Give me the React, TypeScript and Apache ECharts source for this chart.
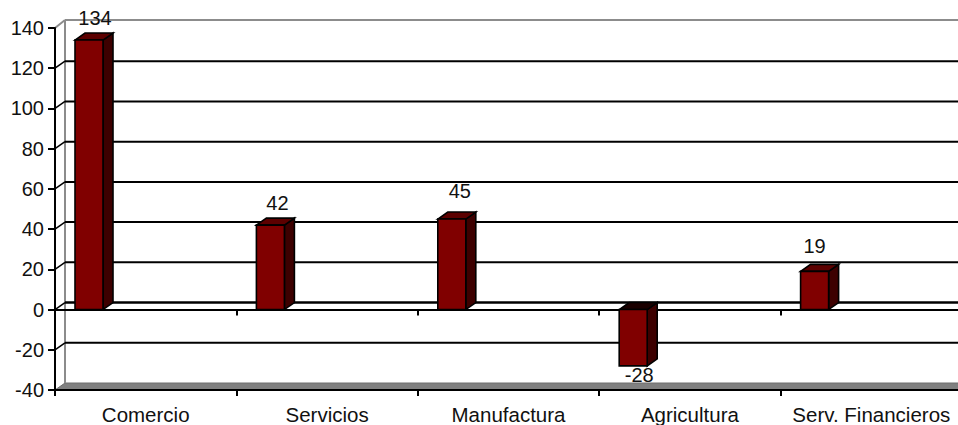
import React, { useEffect, useRef } from "react";
import * as echarts from "echarts";

const categories = ["Comercio", "Servicios", "Manufactura", "Agricultura", "Serv. Financieros"];
const values = [134, 42, 45, -28, 19];
const valueTicks = [-40, -20, 0, 20, 40, 60, 80, 100, 120, 140];

// Layout of the pseudo-3D drawing, in pixels.
const depthX = 10;
const depthY = 7;
const barInset = 20;
const barWidth = 28;
const labelShiftX = [6, 7, 8, 6, 0];
const labelGapY = [22, 22, 28, 9, 25];

const FONT = '"Liberation Sans", Arial, sans-serif';
const INK = "#000000";
const WALL = "#8c8c8c";

// Back wall: gridlines, diagonals joining them to the axis, and the floor.
function renderWall(params: any, api: any) {
  const v = api.value(1);
  const [, y] = api.coord([0, v]);
  const cs = params.coordSys;
  const left = cs.x;
  const right = cs.x + cs.width + 10;
  const isTop = v === valueTicks[valueTicks.length - 1];
  const isFloor = v === valueTicks[0];
  const backY = y - depthY;
  const children: any[] = [];
  const line = (x1: number, y1: number, x2: number, y2: number, stroke: string, lineWidth: number) => ({
    type: "line",
    shape: { x1, y1, x2, y2 },
    style: { stroke, lineWidth },
  });

  if (isFloor) {
    children.push({
      type: "polygon",
      shape: { points: [[left, y], [left + depthX, backY], [right, backY], [right, y]] },
      style: { fill: "#808080", stroke: "#6e6e6e", lineWidth: 1 },
    });
    const topY = api.coord([0, valueTicks[valueTicks.length - 1]])[1] - depthY - 1;
    children.push(line(left + depthX, topY, left + depthX, backY, WALL, 2));
  } else {
    const lineY = isTop ? backY - 1 : backY;
    children.push(line(left + depthX, lineY, right, lineY, isTop ? WALL : INK, v === 0 ? 2.5 : 2));
    children.push(line(left, y, left + depthX, lineY, isTop ? WALL : INK, isTop ? 2 : 1.5));
  }
  return { type: "group", children };
}

// A bar with its front, side and top faces, plus the value above or below it.
function renderBar(_params: any, api: any) {
  const cat = api.value(0);
  const val = api.value(1);
  const band = api.size([1, 0])[0];
  const [cx, yVal] = api.coord([cat, val]);
  const [, yZero] = api.coord([cat, 0]);
  const x0 = cx - band / 2 + barInset;
  const x1 = x0 + barWidth;
  const top = Math.min(yVal, yZero);
  const bottom = Math.max(yVal, yZero);
  const edge = { stroke: INK, lineWidth: 1.6 };
  const labelY = val >= 0 ? yVal - labelGapY[cat] : yVal + labelGapY[cat];
  return {
    type: "group",
    children: [
      {
        type: "polygon",
        shape: { points: [[x1, top], [x1 + depthX, top - depthY], [x1 + depthX, bottom - depthY], [x1, bottom]] },
        style: { fill: "#3d0000", ...edge },
      },
      {
        type: "polygon",
        shape: { points: [[x0, top], [x0 + depthX, top - depthY], [x1 + depthX, top - depthY], [x1, top]] },
        style: { fill: val >= 0 ? "#5c0000" : "#1a0000", ...edge },
      },
      {
        type: "rect",
        shape: { x: x0, y: top, width: barWidth, height: bottom - top },
        style: { fill: "#800000", ...edge },
      },
      {
        type: "text",
        x: x0 + barWidth / 2 + labelShiftX[cat],
        y: labelY,
        style: {
          text: String(val),
          fill: "#111111",
          font: `20px ${FONT}`,
          align: "center",
          verticalAlign: "middle",
        },
      },
    ],
  };
}

export default function App() {
  const ref = useRef<HTMLDivElement>(null);

  useEffect(() => {
    const chart = echarts.init(ref.current!, null, { renderer: "svg" });
    chart.setOption({
      animation: false,
      backgroundColor: "#ffffff",
      grid: { left: 55, width: 907, top: 28, bottom: 35, outerBoundsMode: "none" },
      xAxis: [
        {
          type: "category",
          data: categories,
          position: "bottom",
          z: 4,
          axisLine: { onZero: false, lineStyle: { color: INK, width: 2 } },
          axisTick: { show: true, length: 6, lineStyle: { color: INK, width: 2 } },
          axisLabel: { fontFamily: FONT, fontSize: 20.5, lineHeight: 20, color: "#111111", margin: 14, interval: 0 },
          splitLine: { show: false },
        },
        {
          type: "category",
          data: categories,
          position: "bottom",
          z: 4,
          axisLine: { onZero: true, lineStyle: { color: INK, width: 2 } },
          axisTick: { show: true, length: 6, lineStyle: { color: INK, width: 2 } },
          axisLabel: { show: false },
          splitLine: { show: false },
        },
      ],
      yAxis: {
        type: "value",
        min: -40,
        max: 140,
        interval: 20,
        z: 4,
        axisLine: { show: true, onZero: false, lineStyle: { color: INK, width: 2 } },
        axisTick: { show: true, length: 7, lineStyle: { color: INK, width: 2 } },
        axisLabel: { fontFamily: FONT, fontSize: 20, color: "#111111", margin: 11 },
        splitLine: { show: false },
      },
      series: [
        {
          type: "custom",
          z: 1,
          silent: true,
          clip: false,
          renderItem: renderWall,
          data: valueTicks.map((t) => [0, t]),
        },
        {
          type: "custom",
          z: 6,
          silent: true,
          clip: false,
          renderItem: renderBar,
          data: values.map((v, i) => [i, v]),
        },
      ],
    });
    return () => chart.dispose();
  }, []);

  return (
    <div
      ref={ref}
      style={{ position: "absolute", left: 0, top: 0, width: 958, height: 425, overflow: "hidden" }}
    />
  );
}
